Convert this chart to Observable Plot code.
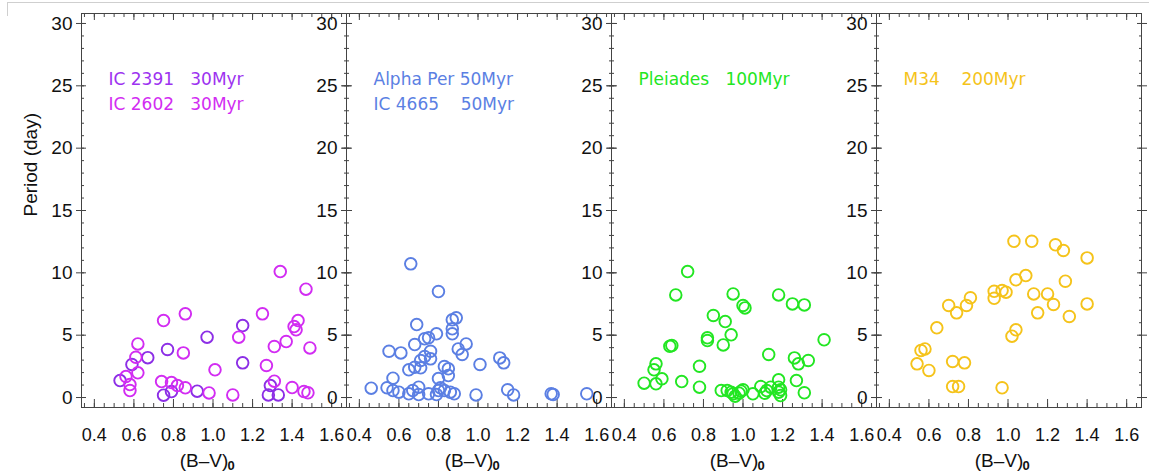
<!DOCTYPE html>
<html><head><meta charset="utf-8">
<script src="https://cdn.jsdelivr.net/npm/d3@7"></script>
<script src="https://cdn.jsdelivr.net/npm/@observablehq/plot@0.6"></script>
<style>
html,body{margin:0;padding:0;background:#fff;}
#chart{position:absolute;left:0;top:0;}
#topline{position:absolute;left:7px;top:2px;width:1141px;height:13px;border-top:1px solid #cfcfcf;border-left:1px solid #cfcfcf;}
</style></head><body>
<div id="topline"></div>
<div id="chart"></div>
<script>
// ---- panels, ticks ----
const panels = ["IC 2391 / IC 2602", "Alpha Per / IC 4665", "Pleiades", "M34"];
const xTicks = [0.4, 0.6, 0.8, 1.0, 1.2, 1.4, 1.6];
const yTicks = [0, 5, 10, 15, 20, 25, 30];
const xMinorTicks = d3.range(0.35, 1.651, 0.05);
const yMinorTicks = d3.range(0, 31, 1);

// ---- series values: (B-V)0 colour and rotation period (days) ----
const ic2391BV = [0.53, 0.59, 0.67, 0.75, 0.77, 0.79, 0.92, 0.97, 1.15, 1.15, 1.29, 1.28, 1.33];
const ic2391P  = [1.36, 2.65, 3.2, 0.19, 3.85, 0.48, 0.51, 4.84, 5.77, 2.78, 0.96, 0.21, 0.21];

const ic2602BV = [0.56, 0.58, 0.58, 0.61, 0.62, 0.62, 0.75, 0.74, 0.79, 0.82, 0.85, 0.86, 0.86, 0.98, 1.01, 1.10, 1.13, 1.25, 1.27, 1.31, 1.31, 1.34, 1.37, 1.40, 1.41, 1.42, 1.43, 1.46, 1.48, 1.47, 1.49];
const ic2602P  = [1.68, 1.04, 0.56, 3.23, 4.3, 1.98, 6.17, 1.28, 1.2, 0.96, 3.58, 6.71, 0.78, 0.37, 2.22, 0.21, 4.84, 6.71, 2.57, 1.31, 4.09, 10.1, 4.49, 0.8, 5.69, 5.43, 6.17, 0.48, 0.38, 8.69, 3.98];

const alphaPerBV = [0.46,0.54,0.55,0.57,0.57,0.60,0.61,0.65,0.65,0.66,0.67,0.68,0.68,0.69,0.70,0.70,0.71,0.71,0.73,0.73,0.75,0.75,0.76,0.76,0.79,0.79,0.80,0.80,0.80,0.81,0.83,0.83,0.85,0.85,0.86,0.87,0.87,0.87,0.88,0.89,0.90,0.92,0.94,0.99,1.01,1.11,1.13,1.15,1.18,1.37,1.38,1.55];
const alphaPerP  = [0.75,0.78,3.71,0.56,1.55,0.43,3.58,2.22,0.3,10.72,0.56,4.25,2.43,5.85,0.83,0.24,2.38,2.97,3.29,4.71,4.79,0.3,3.71,3.1,0.24,5.11,8.5,1.52,0.56,0.78,2.49,0.56,2.3,1.76,0.43,6.23,5.51,5.11,0.3,6.39,3.9,3.45,4.3,0.21,2.65,3.18,2.78,0.62,0.21,0.3,0.24,0.3];

const pleiadesBV = [0.50,0.55,0.56,0.56,0.59,0.63,0.64,0.66,0.69,0.72,0.78,0.78,0.82,0.82,0.85,0.89,0.90,0.91,0.92,0.94,0.94,0.95,0.95,0.96,0.98,0.99,1.00,1.00,1.01,1.05,1.09,1.11,1.12,1.13,1.14,1.18,1.18,1.18,1.18,1.19,1.19,1.25,1.26,1.27,1.28,1.31,1.31,1.33,1.41];
const pleiadesP  = [1.15,2.22,2.7,1.1,1.5,4.11,4.17,8.23,1.28,10.1,2.51,0.83,4.79,4.57,6.58,0.56,4.22,6.09,0.56,0.43,5.03,8.31,0.3,0.11,0.35,0.51,7.38,0.62,7.19,0.3,0.88,0.35,0.56,3.45,0.83,8.23,1.42,0.83,0.43,0.16,0.62,7.51,3.18,1.36,2.7,7.43,0.38,2.97,4.63];

const m34BV = [0.54,0.56,0.58,0.60,0.64,0.70,0.72,0.72,0.74,0.75,0.78,0.79,0.81,0.93,0.93,0.97,0.97,0.99,1.02,1.04,1.03,1.04,1.09,1.12,1.13,1.15,1.20,1.23,1.24,1.28,1.29,1.31,1.40,1.40];
const m34P  = [2.7,3.77,3.9,2.17,5.59,7.38,2.89,0.88,6.79,0.88,2.78,7.38,8.0,7.96,8.52,8.58,0.78,8.45,4.92,5.43,12.53,9.44,9.78,12.53,8.31,6.79,8.31,7.46,12.25,11.79,9.33,6.5,11.2,7.51];

// ---- labels ----
const nb = "\u00a0";
const legendLine1 = ["IC 2391" + nb.repeat(3) + "30Myr", "Alpha Per 50Myr", "Pleiades" + nb.repeat(3) + "100Myr", "M34" + nb.repeat(4) + "200Myr"];
const legendLine2 = ["IC 2602" + nb.repeat(3) + "30Myr", "IC 4665" + nb.repeat(4) + "50Myr", "", ""];
const legendColor1 = ["#9d32f0", "#5b7fe3", "#22e622", "#f5c31a"];
const legendColor2 = ["#d22cf2", "#5b7fe3", "#22e622", "#f5c31a"];
const xLabel = "(B\u2013V)";
const xLabelSub = "0";
const yLabel = "Period (day)";

const series = [
  {panel: panels[0], color: "#8c2ee6", bv: ic2391BV, p: ic2391P},
  {panel: panels[0], color: "#d22cf2", bv: ic2602BV, p: ic2602P},
  {panel: panels[1], color: "#5b7fe3", bv: alphaPerBV, p: alphaPerP},
  {panel: panels[2], color: "#22e622", bv: pleiadesBV, p: pleiadesP},
  {panel: panels[3], color: "#f5c31a", bv: m34BV, p: m34P}
];
const points = series.flatMap(s => s.bv.map((b, i) => ({panel: s.panel, color: s.color, bv: b, p: s.p[i]})));
const legend1 = panels.map((p, i) => ({panel: p, label: legendLine1[i], color: legendColor1[i]}));
const legend2 = panels.map((p, i) => ({panel: p, label: legendLine2[i], color: legendColor2[i]})).filter(d => d.label);

const axisColor = "#444";
const axisFont = "Liberation Sans";
const chart = Plot.plot({
  width: 1152,
  height: 472,
  marginLeft: 81,
  marginRight: 11,
  marginTop: 13,
  marginBottom: 65,
  style: {fontFamily: axisFont, fontSize: "19px", background: "transparent", color: "#111"},
  fx: {domain: panels, padding: 0, axis: null, label: null},
  x: {domain: [0.335, 1.675], axis: null},
  y: {domain: [-0.8, 30.8], axis: null},
  marks: [
    Plot.frame({stroke: axisColor, strokeWidth: 1}),
    // bottom ticks (inward)
    Plot.axisX(xTicks, {anchor: "bottom", tickSize: 8, dy: -8, fill: "none", stroke: axisColor}),
    Plot.axisX(xMinorTicks, {anchor: "bottom", tickSize: 4, dy: -4, fill: "none", stroke: axisColor}),
    // top ticks (inward)
    Plot.axisX(xTicks, {anchor: "top", tickSize: 6, dy: 6, fill: "none", stroke: axisColor}),
    Plot.axisX(xMinorTicks, {anchor: "top", tickSize: 3, dy: 3, fill: "none", stroke: axisColor}),
    // left / right ticks
    Plot.axisY(yTicks, {anchor: "left", tickSize: 10, dx: 5, fill: "none", stroke: axisColor, facetAnchor: null}),
    Plot.axisY(yMinorTicks, {anchor: "left", tickSize: 3, dx: 3, fill: "none", stroke: axisColor, facetAnchor: null}),
    Plot.axisY(yTicks, {anchor: "right", tickSize: 10, dx: -5, fill: "none", stroke: axisColor, facetAnchor: null}),
    Plot.axisY(yMinorTicks, {anchor: "right", tickSize: 3, dx: -3, fill: "none", stroke: axisColor, facetAnchor: null}),
    // tick labels
    Plot.axisX(xTicks, {anchor: "bottom", tickSize: 0, tickPadding: 21, tickFormat: d => d.toFixed(1), label: null, fontSize: 18, fill: "#111"}),
    Plot.axisY(yTicks, {anchor: "left", tickSize: 0, tickPadding: 9, label: null, fontSize: 19, fill: "#111", facetAnchor: null}),
    // axis titles
    Plot.text(panels, {fx: d => d, text: () => xLabel, frameAnchor: "bottom", lineAnchor: "middle", dy: 53, dx: -10, fontSize: 19, fill: "#111"}),
    Plot.text(panels, {fx: d => d, text: () => xLabelSub, frameAnchor: "bottom", lineAnchor: "middle", dy: 58, dx: 17, fontSize: 13, fontWeight: "bold", fill: "#111"}),
    Plot.text([{panel: panels[0], t: yLabel}], {fx: "panel", text: "t", frameAnchor: "left", lineAnchor: "middle", rotate: -90, dx: -51, dy: 6, fontSize: 19, fill: "#111"}),
    // legends
    Plot.text(legend1, {fx: "panel", text: "label", fill: "color", frameAnchor: "top-left", lineAnchor: "middle", dx: 27, dy: 66, textAnchor: "start", fontSize: 17, fontFamily: "DejaVu Sans"}),
    Plot.text(legend2, {fx: "panel", text: "label", fill: "color", frameAnchor: "top-left", lineAnchor: "middle", dx: 27, dy: 91, textAnchor: "start", fontSize: 17, fontFamily: "DejaVu Sans"}),
    // data
    Plot.dot(points, {fx: "panel", x: "bv", y: "p", stroke: "color", r: 5.8, strokeWidth: 1.9, fill: "none"})
  ]
});
document.getElementById("chart").append(chart);
</script></body></html>
